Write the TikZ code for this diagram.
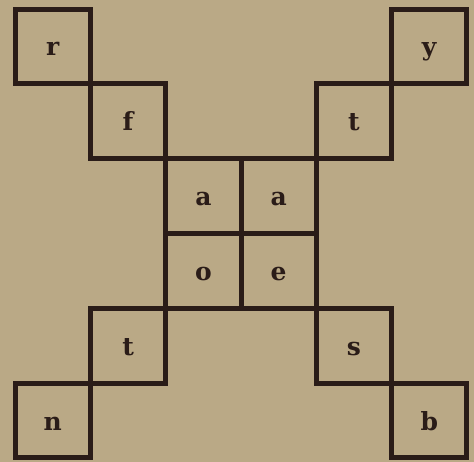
\documentclass[tikz,border=0pt]{standalone}
\usepackage{fontspec}
\setmainfont{DejaVu Serif}
\usepackage{tikz}
\usetikzlibrary{positioning}
\definecolor{paper}{RGB}{186,169,134}
\definecolor{ink}{RGB}{42,28,24}

\begin{document}
\begin{tikzpicture}[x=1pt, y=-1pt,
    cell/.style={draw=ink, line width=5pt, outer sep=0pt, inner sep=0pt,
      minimum width=75.3pt, minimum height=74.8pt, text=ink,
      text height=19pt, text depth=0pt,
      font=\fontsize{25}{25}\selectfont\bfseries}]
  % paper
  \fill[paper] (0,0) rectangle (474,462);
  \useasboundingbox (0,0) rectangle (474,462);

  % top left arm
  \node[cell] (r) at (52.75,46.5) {r};
  \node[cell, below right=0pt of r] (f) {f};

  % centre block
  \node[cell, below right=0pt of f] (a1) {a};
  \node[cell, right=0pt of a1] (a2) {a};
  \node[cell, below=0pt of a1] (o) {o};
  \node[cell, right=0pt of o] (e) {e};

  % top right arm
  \node[cell, above right=0pt of a2] (t1) {t};
  \node[cell, above right=0pt of t1] (y) {y};

  % bottom left arm
  \node[cell, below left=0pt of o] (t2) {t};
  \node[cell, below left=0pt of t2] (n) {n};

  % bottom right arm
  \node[cell, below right=0pt of e] (s) {s};
  \node[cell, below right=0pt of s] (b) {b};
\end{tikzpicture}
\end{document}
